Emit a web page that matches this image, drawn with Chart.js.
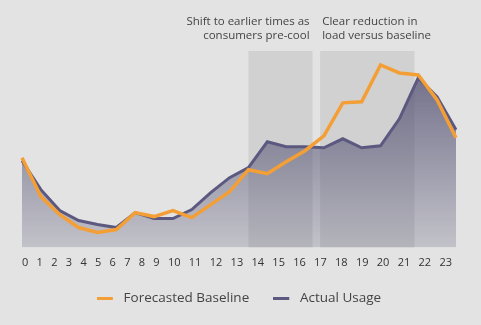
<!DOCTYPE html>
<html>
<head>
<meta charset="utf-8">
<script src="https://cdn.jsdelivr.net/npm/chart.js@4.4.1/dist/chart.umd.min.js"></script>
<style>
  html, body { margin: 0; padding: 0; background: #e3e3e3; }
  #wrap { position: relative; width: 481px; height: 325px; }
</style>
</head>
<body>
<div id="wrap"><canvas id="chart"></canvas></div>
<script>
const hours = ["0","1","2","3","4","5","6","7","8","9","10","11","12","13","14","15","16","17","18","19","20","21","22","23"];
const forecastedBaseline = [45, 25.5, 16.5, 10, 7.5, 9, 17.5, 15.5, 18.5, 15, 21.5, 28, 39, 37, 43, 48.5, 56, 72.5, 73, 91.5, 87.5, 86.5, 74, 55];
const actualUsage = [43.5, 29, 18.5, 13.5, 11.5, 10, 17.5, 14.5, 14.5, 19, 27.5, 35, 40, 53, 50.5, 50.5, 50, 54.5, 50, 51, 64.5, 85, 75.5, 59];

// shaded windows, in hour-index units, with their captions
const windows = [
  { from: 12, to: 15.4, top: 98.5, lines: ["Shift to earlier times as", "consumers pre-cool"], align: "right" },
  { from: 15.8, to: 20.8, top: 98.5, lines: ["Clear reduction in", "load versus baseline"], align: "left" }
];

const FONT = "'Open Sans', sans-serif";
const ORANGE = "#f49f36";
const PURPLE = "#5b5980";

// legend marker: a short line with some blank room after it
function legendLine(color) {
  const c = document.createElement("canvas");
  c.width = 20;
  c.height = 3;
  const g = c.getContext("2d");
  g.fillStyle = color;
  g.fillRect(0, 0, 16, 3);
  return c;
}

const windowsPlugin = {
  id: "windows",
  beforeDatasetsDraw(chart) {
    const { ctx, chartArea, scales: { x, y } } = chart;
    ctx.save();
    ctx.fillStyle = "#d1d1d1";
    windows.forEach(w => {
      const x0 = x.getPixelForValue(w.from);
      const x1 = x.getPixelForValue(w.to);
      const yt = y.getPixelForValue(w.top);
      ctx.fillRect(x0, yt, x1 - x0, chartArea.bottom - yt);
    });
    ctx.restore();
  },
  afterDraw(chart) {
    const { ctx, chartArea, scales: { x } } = chart;
    ctx.save();
    ctx.fillStyle = "#444";
    ctx.font = "11.5px " + FONT;
    ctx.textBaseline = "middle";
    windows.forEach(w => {
      ctx.textAlign = w.align;
      const tx = w.align === "right" ? x.getPixelForValue(w.to) - 3 : x.getPixelForValue(w.from) + 2;
      w.lines.forEach((line, i) => ctx.fillText(line, tx, 22 + i * 13.5));
    });

    // hour labels flow as text across the plot width
    ctx.font = "11px " + FONT;
    ctx.fillStyle = "#333";
    ctx.textAlign = "left";
    const widths = hours.map(h => ctx.measureText(h).width);
    const total = widths.reduce((a, b) => a + b, 0);
    const span = (chartArea.right - 4) - chartArea.left;
    const gap = (span - total) / (hours.length - 1);
    let cx = chartArea.left;
    hours.forEach((h, i) => {
      ctx.fillText(h, cx, chartArea.bottom + 15);
      cx += widths[i] + gap;
    });
    ctx.restore();
  }
};

const ctx = document.getElementById("chart").getContext("2d");
new Chart(ctx, {
  type: "line",
  data: {
    labels: hours,
    datasets: [
      {
        label: "Forecasted Baseline",
        data: forecastedBaseline,
        borderColor: ORANGE,
        backgroundColor: ORANGE,
        borderWidth: 3.5,
        pointRadius: 0,
        tension: 0,
        fill: false
      },
      {
        label: "Actual Usage",
        data: actualUsage,
        borderColor: PURPLE,
        borderWidth: 3,
        pointRadius: 0,
        tension: 0,
        fill: "origin",
        backgroundColor(context) {
          const { chart } = context;
          const area = chart.chartArea;
          if (!area) return "rgba(91,89,128,0.6)";
          const g = chart.ctx.createLinearGradient(0, area.top, 0, area.bottom);
          g.addColorStop(0, "rgba(80,78,112,0.85)");
          g.addColorStop(1, "rgba(80,78,112,0.22)");
          return g;
        }
      }
    ]
  },
  options: {
    responsive: true,
    maintainAspectRatio: false,
    animation: false,
    layout: { padding: { left: 22, right: 25, top: 48, bottom: 10 } },
    plugins: {
      legend: {
        position: "bottom",
        labels: {
          font: { family: FONT, size: 13.5 },
          color: "#444",
          usePointStyle: true,
          pointStyleWidth: 20,
          padding: 24,
          generateLabels(chart) {
            return chart.data.datasets.map((ds, i) => ({
              text: ds.label,
              pointStyle: legendLine(ds.borderColor),
              fillStyle: ds.borderColor,
              strokeStyle: ds.borderColor,
              lineWidth: 0,
              datasetIndex: i,
              fontColor: "#444"
            }));
          }
        }
      },
      tooltip: { enabled: false }
    },
    scales: {
      x: {
        display: true,
        grid: { display: false },
        border: { display: false },
        ticks: { display: false },
        afterFit(scale) { scale.height = 20; }
      },
      y: { display: false, min: 0, max: 100 }
    }
  },
  plugins: [windowsPlugin]
});
</script>
</body>
</html>
